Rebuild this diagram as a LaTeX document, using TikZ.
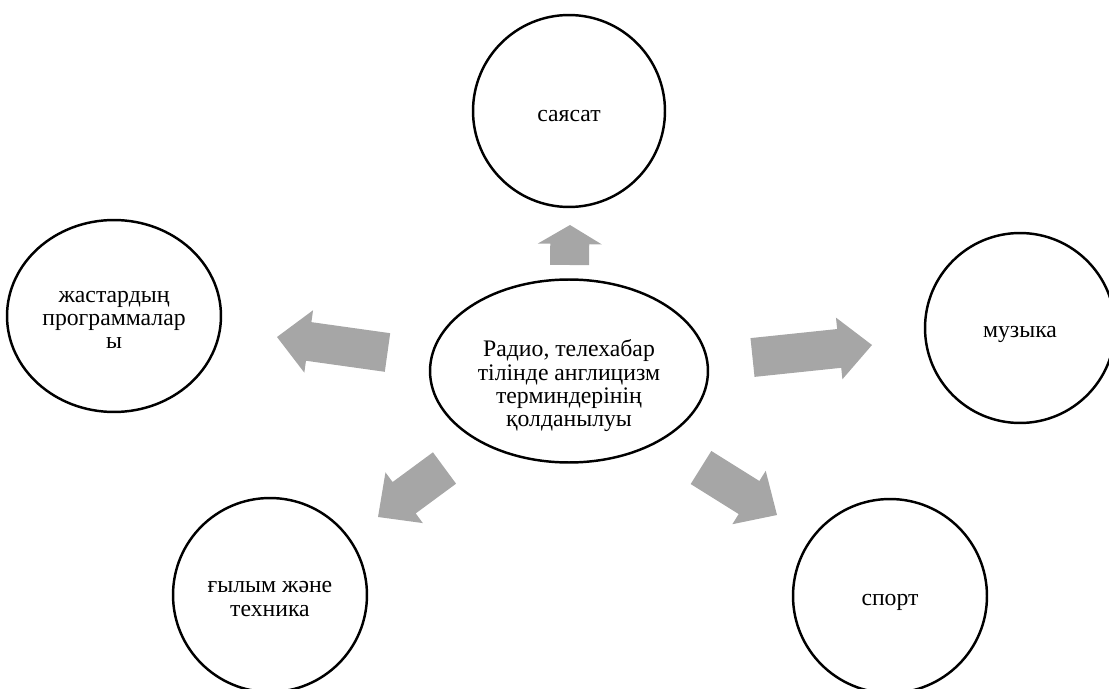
\documentclass[tikz,border=0pt]{standalone}
\usepackage{fontspec}
\setmainfont{Liberation Serif}
\usetikzlibrary{shapes.geometric,calc}
\definecolor{arrowgray}{HTML}{A6A6A6}
\tikzset{
  bubble/.style={ellipse, draw=black, line width=1.4pt, inner sep=0pt},
  txt/.style={inner sep=0pt, align=center, font=\fontsize{13.5pt}{13.3pt}\selectfont},
  blockfill/.style={fill=arrowgray, draw=none},
}
% #1 tail, #2 tip, #3 head length, #4 head half width
\newcommand{\blockarrow}[4]{%
  \path ($(#2)!#3!(#1)$) coordinate (#1h);
  \fill[blockfill] ($(#1)!0.39cm!90:(#2)$) -- ($(#1h)!0.39cm!90:(#2)$)
    -- ($(#1h)!#4!90:(#2)$) -- (#2) -- ($(#1h)!#4!-90:(#2)$)
    -- ($(#1h)!0.39cm!-90:(#2)$) -- ($(#1)!0.39cm!-90:(#2)$) -- cycle;
}
\begin{document}
\begin{tikzpicture}[x=0.02cm, y=-0.02cm]
\useasboundingbox (0,0) rectangle (1109,689);
\clip (0,0) rectangle (1109,689);

\node[bubble, minimum width=5.56cm, minimum height=3.66cm] (center) at (569,371) {};
\node[bubble, minimum width=3.84cm, minimum height=3.84cm] (sayasat) at (569,111) {};
\node[bubble, minimum width=4.28cm, minimum height=3.84cm] (jastar) at (114,316) {};
\node[bubble, minimum width=3.8cm, minimum height=3.8cm] (muzyka) at (1020,328) {};
\node[bubble, minimum width=3.88cm, minimum height=3.88cm] (gylym) at (270,595) {};
\node[bubble, minimum width=3.88cm, minimum height=3.88cm] (sport) at (890,596) {};

\node[txt] (center-t) at ($(center)+(0,15)$)
  {Радио, телехабар\\тілінде англицизм\\терминдерінің\\қолданылуы};
\node[txt] (sayasat-t) at ($(sayasat)+(0,5)$) {саясат};
\node[txt] (jastar-t) at ($(jastar)+(0,4)$) {жастардың\\программалар\\ы};
\node[txt] (muzyka-t) at ($(muzyka)+(0,6)$) {музыка};
\node[txt] (gylym-t) at ($(gylym)+(0,4)$) {ғылым және\\техника};
\node[txt] (sport-t) at ($(sport)+(0,6)$) {спорт};

\coordinate (upT) at (569.5,265);   \coordinate (upP) at (570,225);
\coordinate (lfT) at (387.5,352.5); \coordinate (lfP) at (277,337);
\coordinate (rtT) at (752.5,357.5); \coordinate (rtP) at (872,345);
\coordinate (llT) at (444.5,468);   \coordinate (llP) at (378,517);
\coordinate (lrT) at (701,467.5);   \coordinate (lrP) at (777,515);

\blockarrow{upT}{upP}{0.38cm}{0.64cm}
\blockarrow{lfT}{lfP}{0.64cm}{0.63cm}
\blockarrow{rtT}{rtP}{0.66cm}{0.62cm}
\blockarrow{llT}{llP}{0.65cm}{0.63cm}
\blockarrow{lrT}{lrP}{0.66cm}{0.63cm}
\end{tikzpicture}
\end{document}
